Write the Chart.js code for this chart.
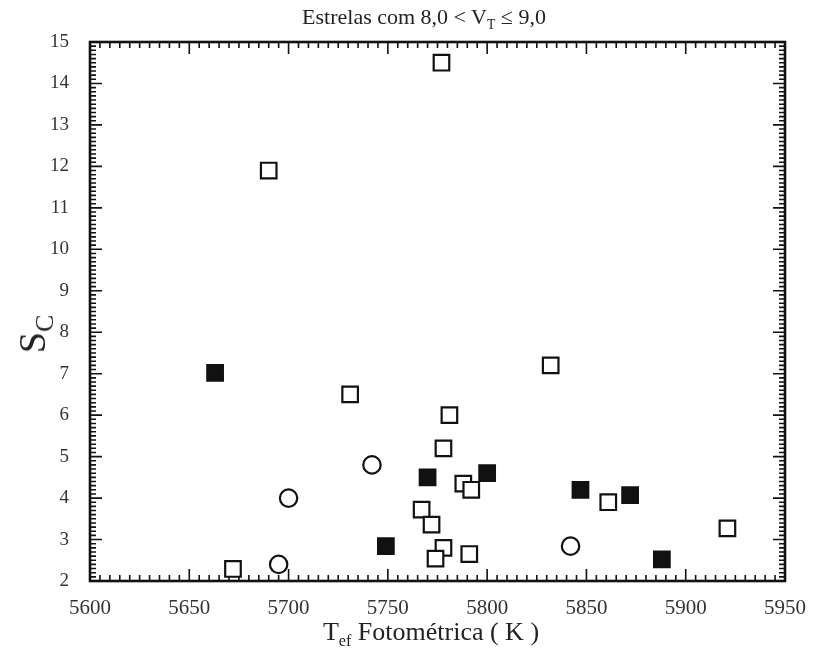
<!DOCTYPE html>
<html>
<head>
<meta charset="utf-8">
<script src="https://cdn.jsdelivr.net/npm/chart.js@4.4.0/dist/chart.umd.min.js"></script>
<style>
  body { margin: 0; background: #fff; }
  #wrap { position: relative; width: 816px; height: 666px; }
  .lbl { position: absolute; font-family: "Liberation Serif", "Times New Roman", serif; color: #222; white-space: nowrap; }
  #title { top: 4px; left: 0; width: 848px; text-align: center; font-size: 22px; }
  #xtitle { top: 617px; left: 0; width: 862px; text-align: center; font-size: 26px; }
  #ytitle { left: 32px; top: 334px; font-size: 38px; line-height: 1; transform: translate(-50%, -50%) rotate(-90deg); }
  sub { font-size: 62%; vertical-align: -0.4em; line-height: 0; }
  #ytitle sub { font-size: 68%; vertical-align: -0.3em; }
</style>
</head>
<body>
<div id="wrap">
  <canvas id="chart" width="816" height="666"></canvas>
  <div class="lbl" id="title">Estrelas com 8,0 &lt; V<sub>T</sub> ≤ 9,0</div>
  <div class="lbl" id="xtitle">T<sub>ef</sub> Fotométrica ( K )</div>
  <div class="lbl" id="ytitle">S<sub>C</sub></div>
</div>
<script>
// axis ranges
const xMin = 5600, xMax = 5950, xStep = 50;
const yMin = 2, yMax = 15, yStep = 1;

// open squares
const openSqT = [5777, 5690, 5832, 5731, 5781, 5778, 5788, 5792, 5767, 5772, 5778, 5774, 5791, 5861, 5921, 5672];
const openSqS = [14.5, 11.9, 7.2, 6.5, 6.0, 5.2, 4.35, 4.2, 3.72, 3.36, 2.8, 2.54, 2.65, 3.9, 3.27, 2.29];

// filled squares
const filledSqT = [5663, 5770, 5800, 5749, 5847, 5872, 5888];
const filledSqS = [7.02, 4.5, 4.6, 2.84, 4.2, 4.07, 2.52];

// open circles
const circT = [5742, 5700, 5695, 5842];
const circS = [4.8, 4.0, 2.4, 2.84];

const toPts = (xs, ys) => xs.map((v, i) => ({ x: v, y: ys[i] }));

// frame + inward ticks on all four sides
const frameTicks = {
  id: 'frameTicks',
  beforeDatasetsDraw(chart) {
    const { ctx, chartArea: a, scales: { x, y } } = chart;
    ctx.save();
    ctx.strokeStyle = '#111';
    ctx.lineWidth = 1.6;
    ctx.beginPath();
    for (let v = xMin; v <= xMax; v += 5) {
      const px = x.getPixelForValue(v);
      const len = v % 50 === 0 ? 12 : 6;
      ctx.moveTo(px, a.bottom); ctx.lineTo(px, a.bottom - len);
      ctx.moveTo(px, a.top); ctx.lineTo(px, a.top + len);
    }
    for (let k = yMin * 10; k <= yMax * 10; k++) {
      const py = y.getPixelForValue(k / 10);
      const len = k % 10 === 0 ? 12 : 6;
      ctx.moveTo(a.left, py); ctx.lineTo(a.left + len, py);
      ctx.moveTo(a.right, py); ctx.lineTo(a.right - len, py);
    }
    ctx.stroke();
    ctx.lineWidth = 2.6;
    ctx.strokeRect(a.left, a.top, a.right - a.left, a.bottom - a.top);
    ctx.restore();
  }
};

const ink = '#111';

new Chart(document.getElementById('chart'), {
  type: 'scatter',
  data: {
    datasets: [
      {
        label: 'open',
        data: toPts(openSqT, openSqS),
        pointStyle: 'rect',
        pointRadius: 11,
        borderWidth: 2.2,
        borderColor: ink,
        backgroundColor: '#fff'
      },
      {
        label: 'filled',
        data: toPts(filledSqT, filledSqS),
        pointStyle: 'rect',
        pointRadius: 11,
        borderWidth: 2.2,
        borderColor: ink,
        backgroundColor: ink
      },
      {
        label: 'circle',
        data: toPts(circT, circS),
        pointStyle: 'circle',
        pointRadius: 8.7,
        borderWidth: 2.2,
        borderColor: ink,
        backgroundColor: '#fff'
      }
    ]
  },
  options: {
    responsive: false,
    animation: false,
    devicePixelRatio: 1,
    layout: { padding: { top: 42, right: 31, left: 0, bottom: 0 } },
    plugins: { legend: { display: false }, tooltip: { enabled: false } },
    scales: {
      x: {
        type: 'linear',
        min: xMin, max: xMax,
        grid: { display: false },
        border: { display: false },
        ticks: {
          stepSize: xStep,
          padding: 7,
          color: '#333',
          maxRotation: 0,
          font: { family: '"Liberation Serif", serif', size: 21 },
          callback: (v) => String(v)
        },
        afterFit(scale) { scale.height = 85; }
      },
      y: {
        type: 'linear',
        min: yMin, max: yMax,
        grid: { display: false },
        border: { display: false },
        ticks: {
          stepSize: yStep,
          padding: 13,
          color: '#333',
          font: { family: '"Liberation Serif", serif', size: 19 },
          callback: (v) => String(v)
        },
        afterFit(scale) { scale.width = 90; }
      }
    }
  },
  plugins: [frameTicks]
});
</script>
</body>
</html>
